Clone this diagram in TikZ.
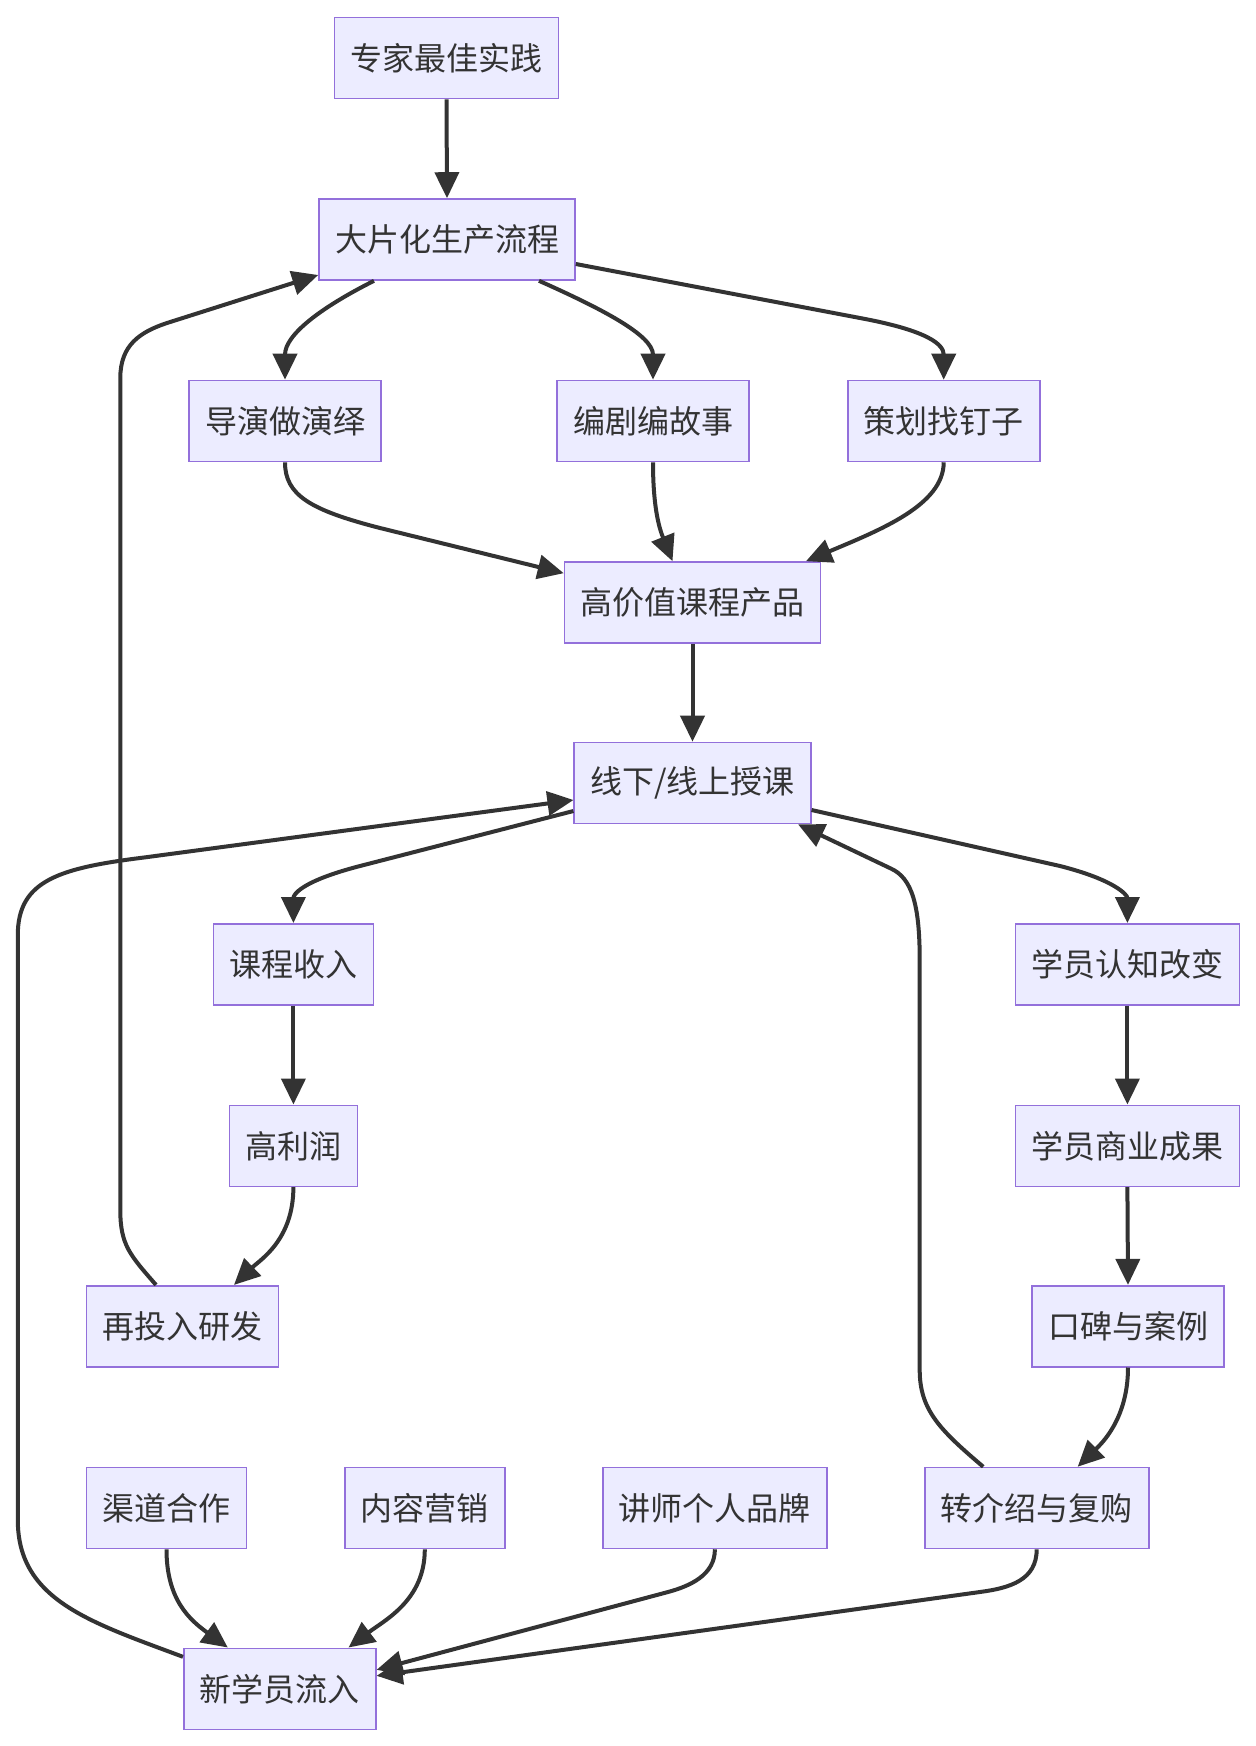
\documentclass[tikz,border=0pt]{standalone}
\usepackage{fontspec}
\setmainfont{Noto Sans CJK SC}
\usetikzlibrary{arrows.meta,calc}
\definecolor{boxfill}{HTML}{ECECFF}
\definecolor{boxdraw}{HTML}{9370DB}
\definecolor{linec}{HTML}{333333}
\begin{document}
\begin{tikzpicture}[x=0.5pt,y=-0.5pt,
  box/.style={draw=boxdraw,fill=boxfill,line width=0.8pt,text=linec,
    font=\fontsize{16pt}{19pt}\selectfont,minimum height=40.5pt,inner xsep=8pt,inner ysep=0pt},
  edge/.style={draw=linec,line width=2pt,-{Triangle[length=13pt,width=12pt]}}]
\useasboundingbox (0,0) rectangle (1256,1746);
\fill[white] (0,0) rectangle (1256,1746);
\node[box] (a) at (446.5,58) {专家最佳实践};
\node[box] (b) at (447,239.5) {大片化生产流程};
\node[box] (c) at (285,421) {导演做演绎};
\node[box] (d) at (653,421) {编剧编故事};
\node[box] (e) at (943.7,421) {策划找钉子};
\node[box] (f) at (692.5,602.5) {高价值课程产品};
\node[box] (g) at (692.5,783) {线下/线上授课};
\node[box] (h) at (293.4,964.3) {课程收入};
\node[box] (i) at (1127.4,964.3) {学员认知改变};
\node[box] (j) at (293.4,1145.8) {高利润};
\node[box] (k) at (1127.4,1145.8) {学员商业成果};
\node[box] (l) at (182.6,1326.2) {再投入研发};
\node[box] (m) at (1128,1326.2) {口碑与案例};
\node[box] (n) at (166.5,1508) {渠道合作};
\node[box] (o) at (424.8,1508) {内容营销};
\node[box] (p) at (714.9,1508) {讲师个人品牌};
\node[box] (q) at (1036.7,1508) {转介绍与复购};
\node[box] (r) at (279.8,1688.8) {新学员流入};

\draw[edge] (a.south) -- (b.north);
\draw[edge] ($(b.south)+(-73,0)$) .. controls (320,308) and (285,335) .. (c.north);
\draw[edge] ($(b.south)+(92,0)$) .. controls (600,308) and (653,335) .. (d.north);
\draw[edge] ($(b.east)+(0,24.5)$) -- (860,318) .. controls (930,331) and (943.7,345) .. (e.north);
\draw[edge] (c.south) .. controls (285,495) and (310,510) .. (380,528) -- ($(f.north west)+(0,12)$);
\draw[edge] (d.south) .. controls (653,510) and (660,530) .. ($(f.north)+(-20,0)$);
\draw[edge] (e.south) .. controls (943.7,505) and (880,530) .. ($(f.north)+(113.5,0)$);
\draw[edge] (f.south) -- (g.north);
\draw[edge] ($(g.west)+(0,28)$) -- (360,866) .. controls (300,881.5) and (293.4,895) .. (h.north);
\draw[edge] ($(g.east)+(0,27)$) -- (1060,866) .. controls (1115,880) and (1127.4,895) .. (i.north);
\draw[edge] (h.south) -- (j.north);
\draw[edge] (i.south) -- (k.north);
\draw[edge] (k.south) -- (m.north);
\draw[edge] (j.south) .. controls (293.4,1240) and (260,1260) .. ($(l.north)+(51.4,0)$);
\draw[edge] (m.south) .. controls (1128,1420) and (1100,1445) .. ($(q.north)+(41,0)$);
\draw[edge] ($(l.north)+(-26.6,0)$) .. controls (130,1255) and (120.3,1245) .. (120.3,1210) -- (120.3,378) .. controls (120.3,345) and (140,332) .. (167,323) -- ($(b.west)+(0,35.5)$);
\draw[edge] ($(q.north)+(-53.5,0)$) .. controls (940,1430) and (919.7,1410) .. (919.7,1370) -- (919.7,960) .. controls (919.7,905) and (912,878) .. (890.8,868.5) -- ($(g.south east)+(-13.5,0)$);
\draw[edge] ($(r.west)+(0,-32)$) .. controls (90,1622) and (17.8,1600) .. (17.8,1520) -- (17.8,935) .. controls (17.8,880) and (60,868) .. (144.7,857.4) -- ($(g.west)+(0,17)$);
\draw[edge] (n.south) .. controls (166.5,1600) and (190,1620) .. ($(r.north)+(-52,0)$);
\draw[edge] (o.south) .. controls (424.8,1600) and (385,1620) .. ($(r.north)+(68.7,0)$);
\draw[edge] (p.south) .. controls (714.9,1575) and (690,1586) .. (668,1592) -- ($(r.east)+(0,-19)$);
\draw[edge] (q.south) .. controls (1036.7,1580) and (1010,1588) .. (979.9,1592) -- ($(r.east)+(0,-13)$);
\end{tikzpicture}
\end{document}
